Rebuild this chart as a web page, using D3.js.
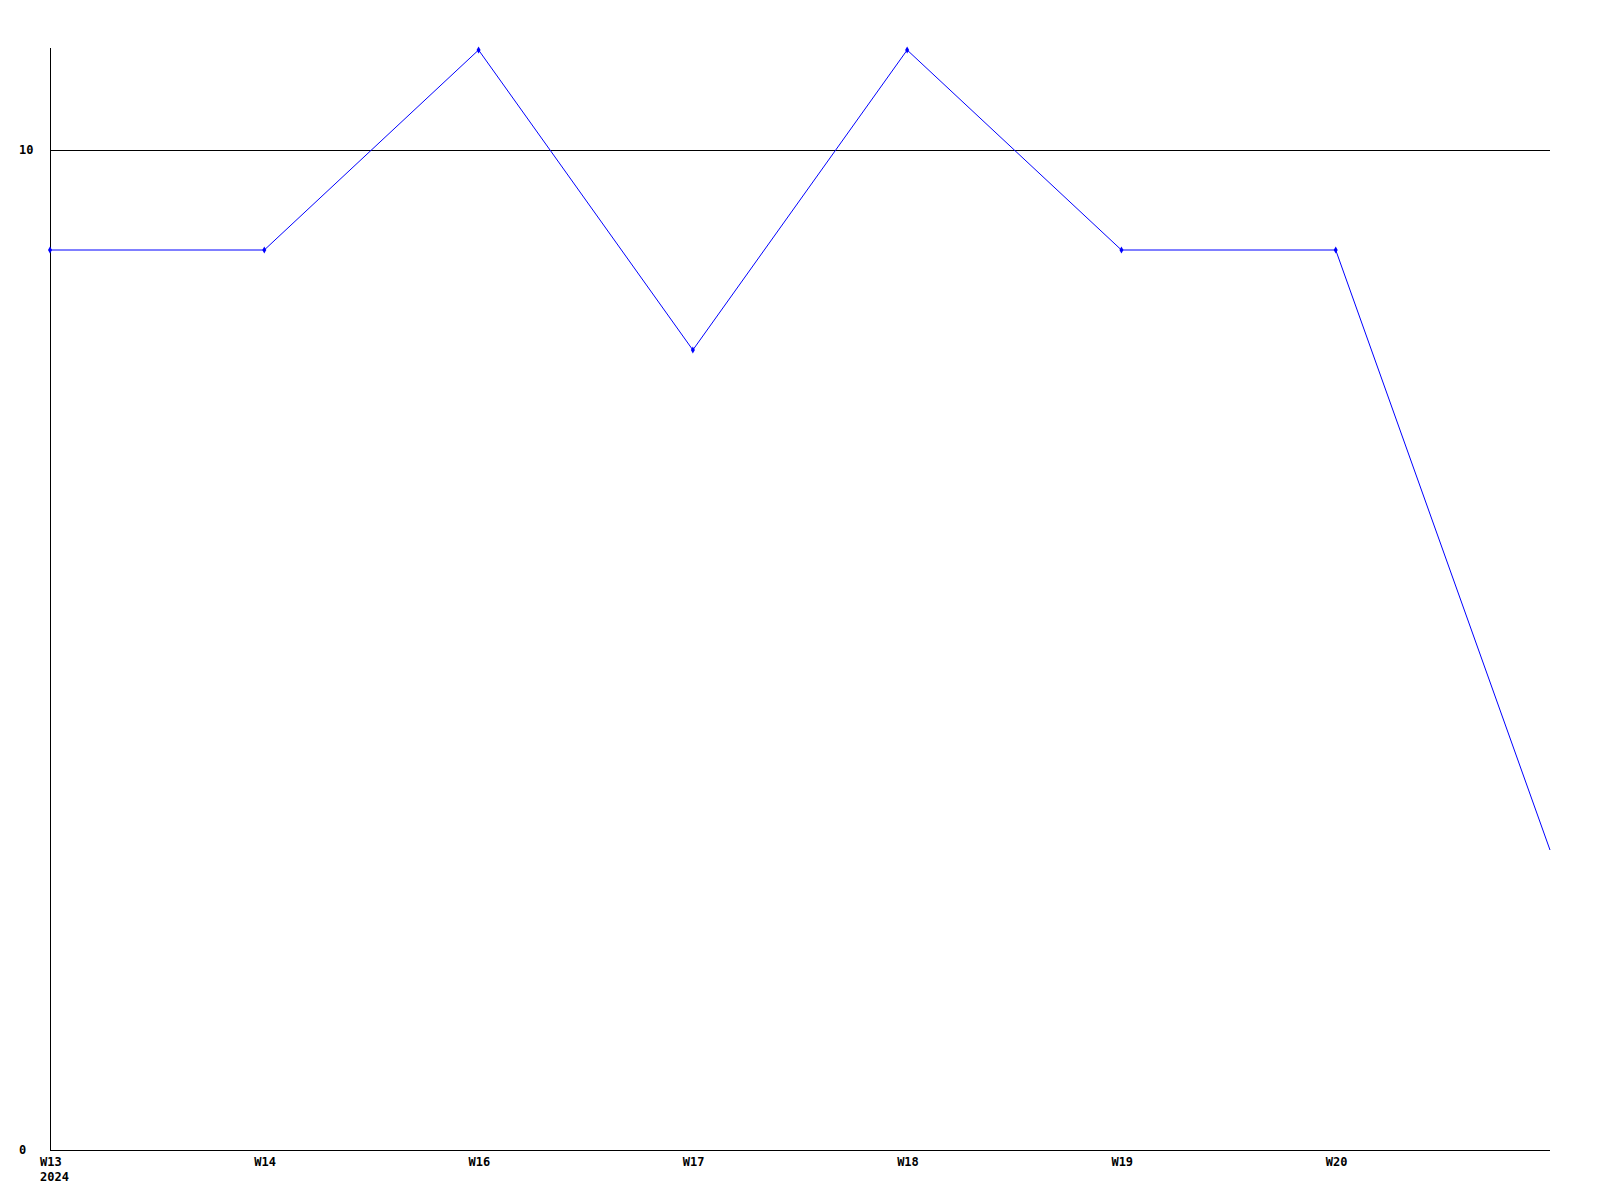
<!DOCTYPE html>
<html>
<head>
<meta charset="utf-8">
<script src="https://cdn.jsdelivr.net/npm/d3@7"></script>
<style>
  html, body { margin: 0; padding: 0; background: #fff; }
  svg text { font-family: "DejaVu Sans Mono", "Liberation Mono", monospace; font-weight: bold; font-size: 12px; fill: #000; }
</style>
</head>
<body>
<svg id="chart" width="1600" height="1200"></svg>
<script>
const categories = ["W13", "W14", "W16", "W17", "W18", "W19", "W20", ""];
const values = [9, 9, 11, 8, 11, 9, 9, 3];
const markerShown = [true, true, true, true, true, true, true, false];
const yTicks = [0, 10];
const yearLabel = "2024";

const svg = d3.select("#chart");
const mLeft = 50, mRight = 1550, mTop = 50, mBottom = 1150;

const x = d3.scalePoint().domain(d3.range(categories.length)).range([mLeft, mRight]);
const y = d3.scaleLinear().domain([0, 11]).range([mBottom, mTop]);

// gridline at 10
svg.append("g").selectAll("line").data(yTicks.filter(d => d > 0)).join("line")
  .attr("x1", mLeft).attr("x2", mRight)
  .attr("y1", d => Math.round(y(d)) + 0.5).attr("y2", d => Math.round(y(d)) + 0.5)
  .attr("stroke", "#000").attr("stroke-width", 1);

// axes
svg.append("line").attr("x1", mLeft + 0.5).attr("x2", mLeft + 0.5)
  .attr("y1", mTop - 2).attr("y2", mBottom + 0.5).attr("stroke", "#000");
svg.append("line").attr("x1", mLeft).attr("x2", mRight)
  .attr("y1", mBottom + 0.5).attr("y2", mBottom + 0.5).attr("stroke", "#000");

// y labels
svg.append("g").selectAll("text").data(yTicks).join("text")
  .attr("x", 19).attr("y", d => y(d)).attr("dy", "0.35em")
  .text(d => d);

// x labels
svg.append("g").selectAll("text").data(categories.map((c, i) => ({c, i})).filter(d => d.c)).join("text")
  .attr("x", d => x(d.i) - 10).attr("y", mBottom + 12).attr("dy", "0.35em")
  .text(d => d.c);
svg.append("text").attr("x", x(0) - 10).attr("y", mBottom + 27).attr("dy", "0.35em").text(yearLabel);

// line
const line = d3.line().x((d, i) => x(i)).y(d => y(d));
svg.append("path").datum(values).attr("d", line)
  .attr("fill", "none").attr("stroke", "#0000ff").attr("stroke-width", 1);

// markers
svg.append("g").selectAll("path").data(values.map((v, i) => ({v, i})).filter(d => markerShown[d.i])).join("path")
  .attr("d", d3.symbol(d3.symbolDiamond, 14))
  .attr("transform", d => `translate(${x(d.i)},${y(d.v)})`)
  .attr("fill", "#0000ff");
</script>
</body>
</html>
